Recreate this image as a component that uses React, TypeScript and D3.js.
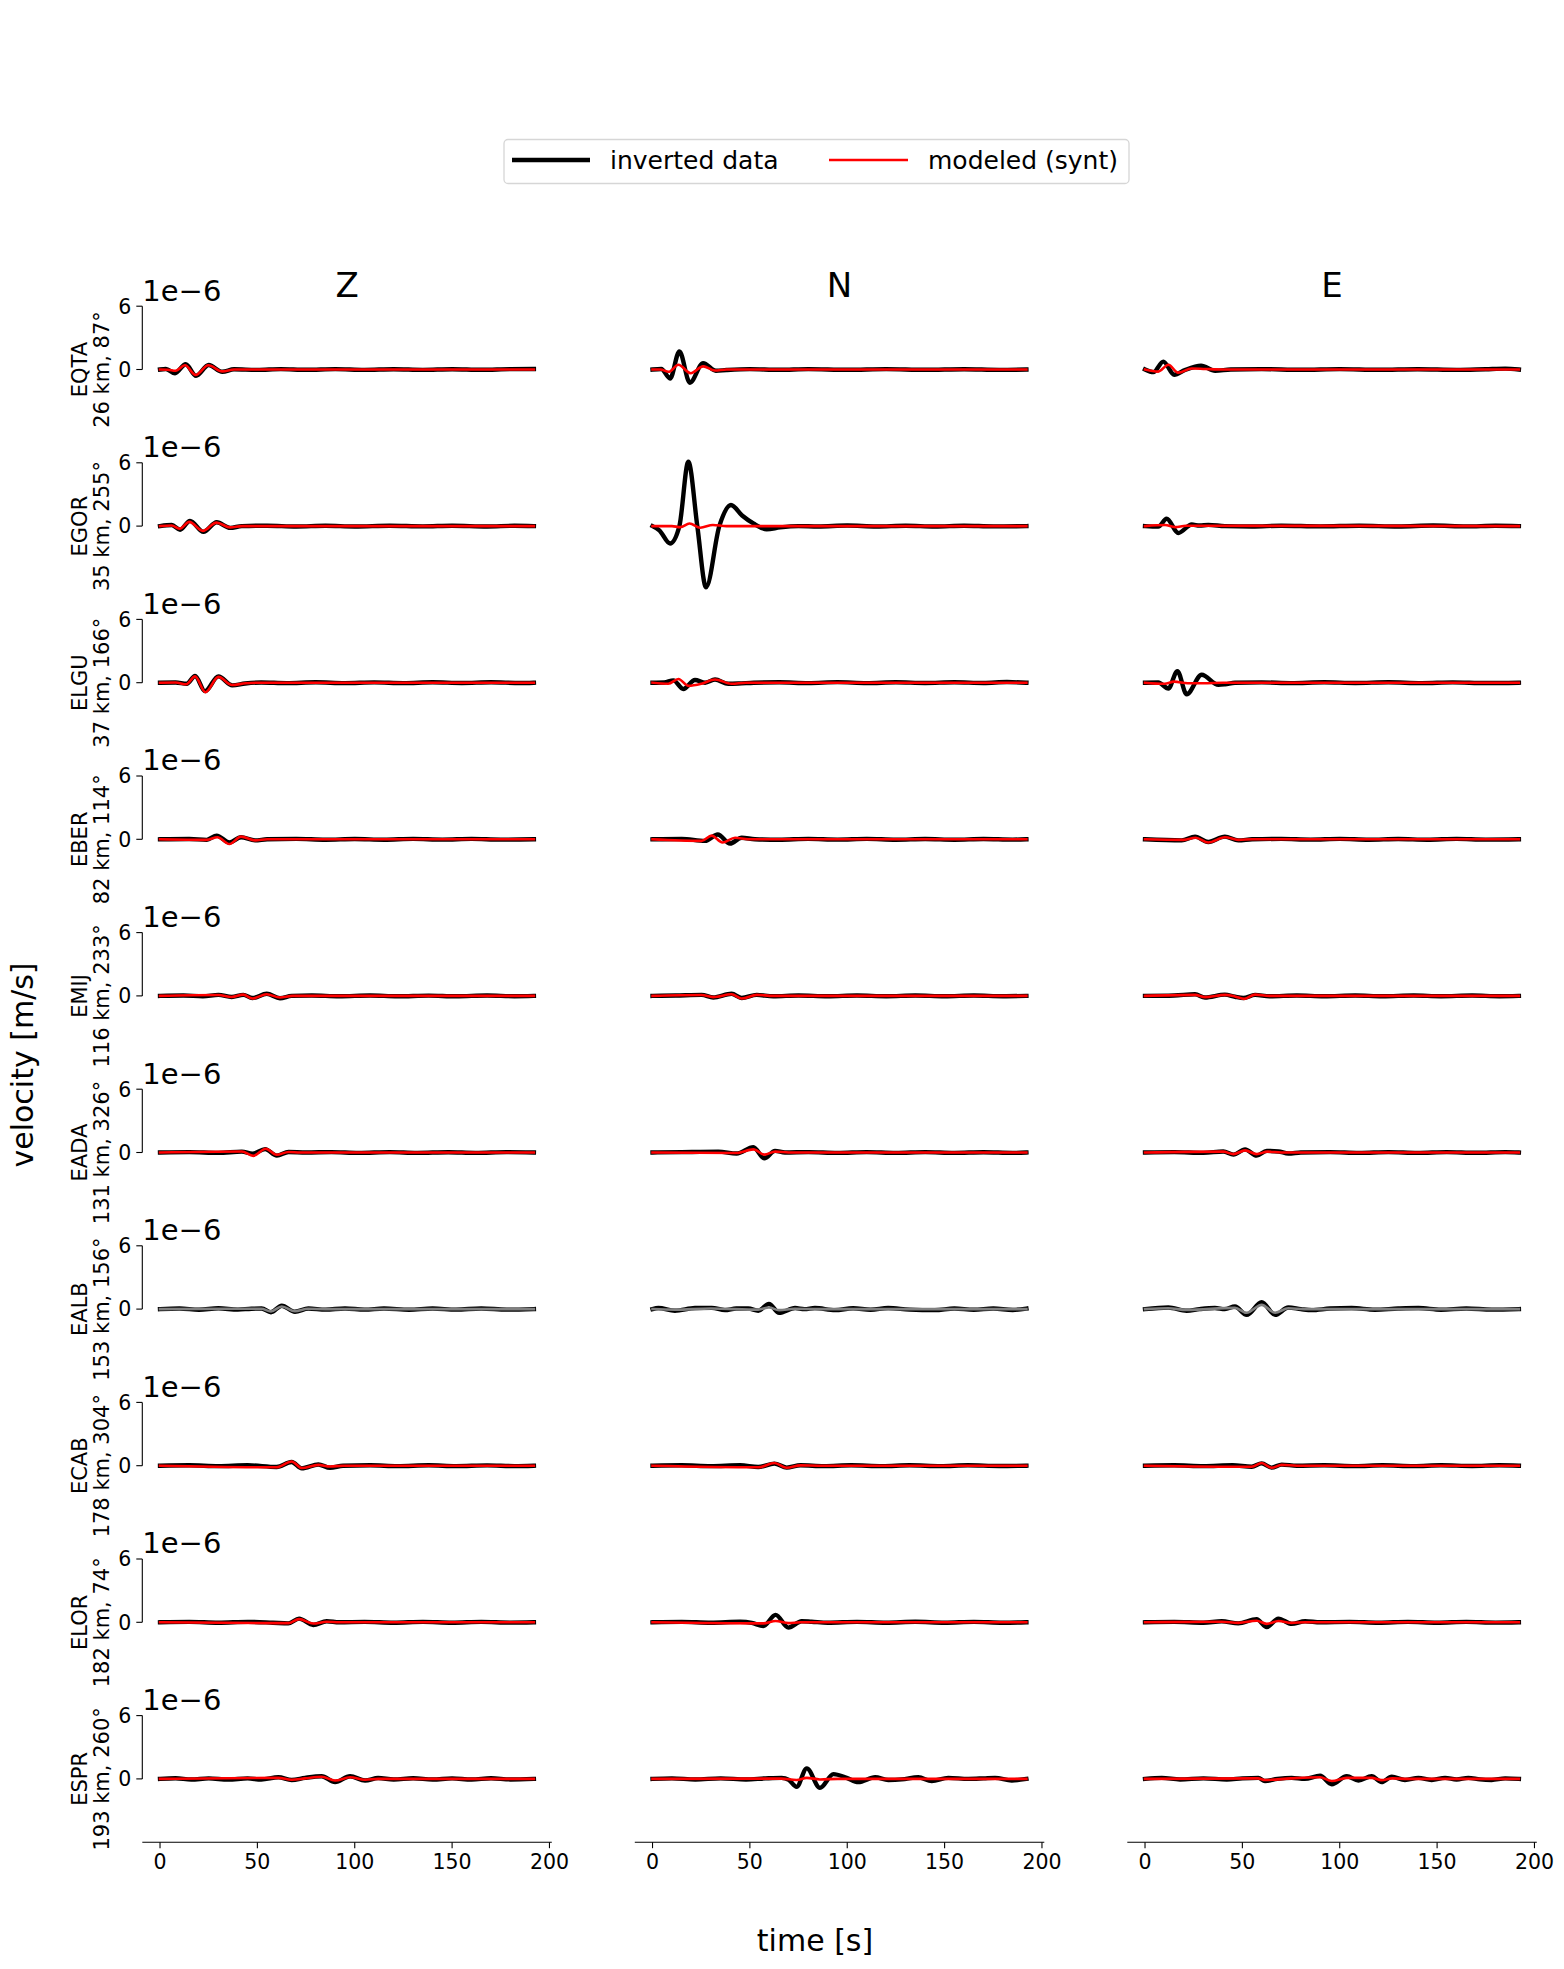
import React from 'react'
import * as d3 from 'd3'

type Pt = [number, number]

const stations = ['EQTA', 'EGOR', 'ELGU', 'EBER', 'EMIJ', 'EADA', 'EALB', 'ECAB', 'ELOR', 'ESPR']
const stationInfo = [
  '26 km, 87°', '35 km, 255°', '37 km, 166°', '82 km, 114°', '116 km, 233°',
  '131 km, 326°', '153 km, 156°', '178 km, 304°', '182 km, 74°', '193 km, 260°',
]
const components = ['Z', 'N', 'E']
const xTicks = [0, 50, 100, 150, 200]
const yTicks = [0, 6]
// stations not used in the inversion get a grey synthetic
const modeledColors = ['red', 'red', 'red', 'red', 'red', 'red', 'gray', 'red', 'red', 'red']

// velocities in 1e-6 m/s, [time s, value]
const eqtaZObs: Pt[] = [[0,0],[3,0.05],[7.7,-0.35],[13.2,0.5],[18.5,-0.6],[25,0.42],[32,-0.22],[38,0.02],[50,-0.04],[62,0.04],[75,-0.03],[90,0.04],[105,-0.04],[120,0.03],[135,-0.04],[150,0.03],[165,-0.03],[180,0.04],[192,0.05]]
const eqtaZSyn: Pt[] = [[0,0],[4,-0.02],[8,-0.12],[12.8,0.4],[18.3,-0.52],[24.8,0.4],[32,-0.18],[38,0],[192,0]]
const eqtaNObs: Pt[] = [[0,0],[4.5,0.05],[9,-0.85],[13.8,1.7],[19.2,-1.25],[26,0.6],[32.5,-0.12],[38,-0.05],[50,0.04],[65,-0.03],[80,0.04],[100,-0.03],[120,0.04],[140,-0.03],[160,0.03],[178,-0.04],[192,0]]
const eqtaNSyn: Pt[] = [[0,0],[4,0],[8.3,-0.22],[13.3,0.45],[19.6,-0.35],[26,0.3],[32,-0.1],[38,0],[192,0]]
const eqtaEObs: Pt[] = [[0,0],[4.3,-0.25],[9.4,0.75],[15,-0.5],[20.5,-0.05],[28.8,0.35],[36,-0.12],[44,0],[60,0.04],[80,-0.03],[100,0.04],[120,-0.03],[140,0.03],[160,-0.04],[175,0.03],[185,0.08],[192,0]]
const eqtaESyn: Pt[] = [[0,0],[6.8,-0.2],[12,0.45],[17,-0.3],[24,0.1],[31,0.05],[40,0],[192,0]]

const egorZObs: Pt[] = [[0,0],[6,0.1],[10.3,-0.34],[15.4,0.5],[22.3,-0.55],[29.1,0.36],[36,-0.17],[42,0],[55,0.04],[70,-0.04],[85,0.03],[100,-0.04],[118,0.04],[135,-0.03],[150,0.04],[168,-0.04],[182,0.03],[192,0]]
const egorZSyn: Pt[] = [[0,0],[6,0.05],[10,-0.25],[15,0.4],[22,-0.45],[29,0.33],[36,-0.12],[42,0],[192,0]]
const egorNObs: Pt[] = [[0,0],[3.5,-0.4],[9,-1.65],[13.8,0],[18.4,6.1],[23,0],[27.5,-5.8],[34.3,0],[40.3,2.0],[46,1.0],[51.8,0.25],[58.6,-0.3],[65.5,-0.12],[75,0],[85,-0.04],[100,0.05],[115,-0.04],[130,0.04],[145,-0.04],[160,0.04],[175,-0.03],[192,0]]
const egorNSyn: Pt[] = [[0,0],[10,0],[14.3,-0.1],[19,0.25],[24.5,-0.15],[31,0.1],[38,0],[192,0]]
const egorEObs: Pt[] = [[0,0],[6.8,-0.05],[11.1,0.7],[17.1,-0.65],[24,0.15],[28,0.05],[32.5,0.12],[41,0],[55,-0.04],[70,0.04],[90,-0.03],[110,0.04],[130,-0.04],[148,0.05],[165,-0.03],[180,0.03],[192,0]]
const egorESyn: Pt[] = [[0,0],[10.3,0.1],[15.4,-0.1],[21,0.03],[192,0]]

const elguZObs: Pt[] = [[0,0],[8,0.02],[13.7,-0.1],[18,0.64],[23.1,-0.8],[30,0.6],[37.1,-0.25],[43.7,-0.08],[52,0.02],[65,-0.04],[80,0.04],[95,-0.04],[110,0.03],[125,-0.04],[140,0.04],[155,-0.03],[170,0.04],[185,-0.03],[192,0]]
const elguZSyn: Pt[] = [[0,0],[8,0.02],[13.5,-0.15],[18,0.6],[23.3,-0.9],[30,0.55],[37,-0.22],[44,-0.05],[52,0],[192,0]]
const elguNObs: Pt[] = [[0,0],[6,0.02],[10.7,0.22],[15.8,-0.6],[21.8,0.25],[27,0],[32.1,0.3],[38.9,-0.1],[44,-0.08],[52,0],[65,0.04],[80,-0.04],[95,0.05],[110,-0.04],[125,0.04],[140,-0.03],[155,0.04],[170,-0.03],[182,0.06],[192,0]]
const elguNSyn: Pt[] = [[0,0],[8.1,-0.1],[13.3,0.35],[18.4,-0.3],[25.2,-0.1],[32.1,0.3],[40.6,-0.1],[48,0],[192,0]]
const elguEObs: Pt[] = [[0,0],[6.8,0.02],[12,-0.55],[16.6,1.1],[21.4,-1.1],[29.1,0.75],[37.7,-0.2],[41.1,-0.15],[46.2,0],[60,0.03],[75,-0.04],[92,0.04],[108,-0.03],[125,0.04],[142,-0.04],[158,0.03],[175,-0.03],[192,0]]
const elguESyn: Pt[] = [[0,0],[10,-0.1],[15,0.1],[22,-0.05],[30,-0.05],[40,0],[192,0]]

const eberZObs: Pt[] = [[0,0],[15,0.03],[24,-0.05],[29.1,0.35],[35.6,-0.3],[41.6,0.2],[48.8,-0.1],[55,0],[70,0.04],[85,-0.04],[100,0.03],[115,-0.04],[130,0.04],[145,-0.03],[160,0.04],[175,-0.03],[192,0]]
const eberZSyn: Pt[] = [[0,0],[24,-0.05],[29.5,0.2],[35.6,-0.45],[41.6,0.25],[48.8,-0.1],[55,0],[192,0]]
const eberNObs: Pt[] = [[0,0],[15,0.03],[27,-0.15],[33.5,0.45],[39.8,-0.4],[45.8,0.15],[52.6,0],[65,-0.04],[80,0.04],[95,-0.03],[110,0.04],[125,-0.04],[140,0.03],[155,-0.04],[170,0.03],[185,-0.03],[192,0]]
const eberNSyn: Pt[] = [[0,0],[25.2,-0.15],[30.4,0.35],[35.9,-0.3],[42.4,0.15],[49.2,0],[192,0]]
const eberEObs: Pt[] = [[0,0],[18.8,-0.1],[25.7,0.25],[32.5,-0.25],[41,0.25],[47.9,-0.1],[55,0],[70,0.04],[85,-0.03],[100,0.04],[115,-0.04],[130,0.03],[145,-0.04],[160,0.04],[175,-0.03],[192,0]]
const eberESyn: Pt[] = [[0,0],[20,-0.05],[26,0.15],[32.5,-0.3],[41,0.2],[48,-0.05],[55,0],[192,0]]

const emijZObs: Pt[] = [[0,0],[12,0.04],[22,-0.04],[30,0.1],[36.8,-0.1],[42.8,0.1],[47.4,-0.2],[54.8,0.2],[61.6,-0.22],[67.6,0],[78,0.04],[92,-0.04],[108,0.04],[122,-0.04],[138,0.03],[152,-0.04],[168,0.04],[182,-0.03],[192,0]]
const emijZSyn: Pt[] = [[0,0],[30,0.08],[36.8,-0.1],[42.8,0.12],[47.4,-0.25],[54.8,0.15],[61.6,-0.15],[68,0],[192,0]]
const emijNObs: Pt[] = [[0,0],[12,0.04],[25.2,0.1],[31.2,-0.15],[40.6,0.2],[45.8,-0.2],[53.5,0.1],[62,-0.04],[75,0.04],[90,-0.04],[105,0.04],[120,-0.03],[135,0.04],[150,-0.04],[165,0.04],[180,-0.03],[192,0]]
const emijNSyn: Pt[] = [[0,0],[25.2,0.08],[31.2,-0.12],[40.6,0.15],[45.8,-0.25],[53.5,0.1],[62,0],[192,0]]
const emijEObs: Pt[] = [[0,0],[15,0.04],[25.7,0.15],[30.8,-0.15],[41,0.12],[46.2,-0.08],[50.5,-0.2],[56.5,0.1],[64,-0.04],[78,0.04],[92,-0.04],[108,0.04],[122,-0.04],[138,0.04],[152,-0.03],[168,0.04],[182,-0.03],[192,0]]
const emijESyn: Pt[] = [[0,0],[25.7,0.1],[30.8,-0.12],[41,0.1],[46.2,-0.05],[51,-0.28],[56.5,0.12],[64,0],[192,0]]

const eadaZObs: Pt[] = [[0,0],[15,0.04],[30,-0.04],[42,0.08],[47.5,-0.12],[54,0.32],[60,-0.3],[66,0.05],[75,0],[88,0.04],[102,-0.04],[118,0.04],[132,-0.04],[148,0.03],[162,-0.04],[178,0.04],[192,0]]
const eadaZSyn: Pt[] = [[0,0],[42,0.1],[47.9,-0.32],[54.3,0.35],[59.9,-0.22],[66,0.05],[72,0],[192,0]]
const eadaNObs: Pt[] = [[0,0],[15,0.04],[33.8,0.08],[43.2,-0.1],[51.8,0.5],[57.4,-0.55],[62.9,0.15],[68,0],[80,0.04],[95,-0.04],[110,0.04],[125,-0.04],[140,0.04],[155,-0.04],[170,0.03],[185,-0.04],[192,0]]
const eadaNSyn: Pt[] = [[0,0],[43,-0.05],[51.8,0.3],[57.4,-0.2],[63,0.08],[70,0],[192,0]]
const eadaEObs: Pt[] = [[0,0],[15,0.04],[30,-0.04],[40.2,0.1],[45.4,-0.2],[51.4,0.3],[57.3,-0.3],[62.5,0.15],[68.5,0.1],[73.6,-0.1],[80,0],[95,0.04],[110,-0.04],[125,0.04],[140,-0.04],[155,0.04],[170,-0.03],[185,0.04],[192,0]]
const eadaESyn: Pt[] = [[0,0],[40.2,0.08],[45.4,-0.15],[51.4,0.2],[57.3,-0.15],[63,0.08],[70,0],[192,0]]

const ealbZObs: Pt[] = [[0,0],[10,0.06],[20,-0.06],[30,0.08],[40,-0.05],[47,0.04],[52.2,0.05],[57,-0.3],[62.5,0.32],[69.3,-0.25],[76.2,0.05],[85,-0.05],[95,0.06],[105,-0.05],[115,0.05],[128,-0.06],[140,0.05],[152,-0.05],[165,0.06],[178,-0.05],[192,0]]
const ealbZSyn: Pt[] = [[0,0],[52,0.03],[57,-0.22],[62.5,0.25],[69.3,-0.2],[76,0.03],[85,0],[192,0]]
const ealbNObs: Pt[] = [[0,0],[3,0.1],[11.5,-0.15],[21.8,0.1],[30.4,0.12],[37.2,-0.1],[43,0.05],[49.2,0.05],[54.3,-0.15],[59.8,0.5],[65,-0.35],[73.2,0.1],[78,0],[83.4,0.1],[93.7,-0.1],[103,0.08],[112,-0.06],[121,0.1],[132,-0.05],[145,-0.1],[155,0.06],[165,-0.06],[175,0.05],[185,-0.08],[192,0.05]]
const ealbNSyn: Pt[] = [[0,0],[11.5,-0.05],[30,0.05],[54.3,-0.05],[59.8,0.15],[65,-0.1],[73,0.03],[85,0],[192,0]]
const ealbEObs: Pt[] = [[0,0],[12,0.15],[21.4,-0.15],[28,0],[35.9,0.1],[41,0],[46.2,0.25],[52.2,-0.55],[59.9,0.65],[66.8,-0.55],[73.6,0.15],[80,0],[85.6,-0.1],[95,0.05],[106.1,0.1],[118,-0.06],[130,0.05],[140.4,0.1],[152,-0.06],[165,0.06],[178,-0.05],[192,0]]
const ealbESyn: Pt[] = [[0,0],[12,0.08],[21.4,-0.08],[46.2,0.12],[52.2,-0.35],[59.9,0.4],[66.8,-0.35],[73.6,0.08],[82,0],[192,0]]

const ecabZObs: Pt[] = [[0,0],[15,0.04],[30,-0.04],[45,0.04],[59.9,-0.12],[67.6,0.35],[72.8,-0.25],[81.3,0.12],[87.3,-0.2],[94,0],[108,0.04],[122,-0.04],[138,0.04],[152,-0.04],[168,0.03],[182,-0.04],[192,0]]
const ecabZSyn: Pt[] = [[0,0],[59.9,-0.15],[67.6,0.4],[72.8,-0.22],[81.3,0.08],[87.3,-0.08],[94,0],[192,0]]
const ecabNObs: Pt[] = [[0,0],[15,0.04],[30,-0.04],[45,0.04],[54.3,-0.12],[62.6,0.2],[68.9,-0.18],[76,0.04],[88,-0.04],[102,0.04],[118,-0.04],[132,0.04],[148,-0.04],[162,0.04],[178,-0.03],[192,0]]
const ecabNSyn: Pt[] = [[0,0],[54.3,-0.15],[62.6,0.25],[68.9,-0.2],[76,0.03],[85,0],[192,0]]
const ecabEObs: Pt[] = [[0,0],[15,0.04],[30,-0.04],[45,0.04],[54.8,-0.1],[59.9,0.22],[65,-0.18],[70.2,0.1],[78,0],[92,0.04],[108,-0.04],[122,0.04],[138,-0.04],[152,0.04],[168,-0.03],[182,0.04],[192,0]]
const ecabESyn: Pt[] = [[0,0],[54.8,-0.1],[59.9,0.25],[65,-0.2],[70.2,0.08],[78,0],[192,0]]

const elorZObs: Pt[] = [[0,0],[15,0.04],[30,-0.04],[45,0.04],[58,-0.04],[65.9,-0.1],[71.4,0.35],[78.7,-0.25],[85.6,0.1],[92,0],[105,0.04],[120,-0.04],[135,0.04],[150,-0.04],[165,0.04],[180,-0.03],[192,0]]
const elorZSyn: Pt[] = [[0,0],[65.9,-0.08],[71.4,0.3],[78.7,-0.12],[85.6,0.05],[92,0],[192,0]]
const elorNObs: Pt[] = [[0,0],[15,0.04],[30,-0.04],[45,0.05],[51,-0.05],[56.9,-0.35],[63.2,0.7],[69.8,-0.5],[76.6,0.1],[81.7,0.05],[90,-0.04],[105,0.04],[120,-0.04],[135,0.05],[150,-0.04],[165,0.04],[180,-0.04],[192,0]]
const elorNSyn: Pt[] = [[0,0],[56.9,-0.1],[63.2,0.12],[69.8,-0.08],[76,0],[192,0]]
const elorEObs: Pt[] = [[0,0],[15,0.04],[30,-0.04],[39.4,0.1],[47.9,-0.1],[57.3,0.3],[62.5,-0.45],[68.5,0.35],[75.3,-0.15],[82.2,0.1],[90,0],[105,0.04],[120,-0.04],[135,0.04],[150,-0.04],[165,0.04],[180,-0.03],[192,0]]
const elorESyn: Pt[] = [[0,0],[39.4,0.05],[47.9,-0.05],[57.3,0.15],[62.5,-0.15],[68.5,0.12],[75.3,-0.05],[82,0],[192,0]]

const esprZObs: Pt[] = [[0,0],[8,0.06],[16,-0.06],[25,0.05],[35,-0.06],[45,0.05],[52,-0.06],[60.8,0.15],[67.6,-0.1],[74.5,0.1],[83,0.25],[89.9,-0.3],[97.6,0.25],[105.3,-0.15],[112,0.08],[120,-0.06],[130,0.06],[140,-0.06],[150,0.05],[160,-0.06],[170,0.06],[180,-0.05],[192,0]]
const esprZSyn: Pt[] = [[0,0],[60.8,0.1],[67.6,-0.08],[74.5,0.05],[83,0.2],[89.9,-0.15],[97.6,0.15],[105.3,-0.08],[112,0],[192,0]]
const esprNObs: Pt[] = [[0,0],[10,0.05],[22,-0.05],[35,0.05],[48,-0.05],[58,0.05],[66.3,0.1],[70,-0.1],[74,-0.75],[79.2,1.0],[86,-0.85],[92.9,0.45],[99.7,0.1],[105.7,-0.3],[114.3,0.15],[121.1,-0.1],[128,-0.05],[136.5,0.15],[143.4,-0.2],[151.9,0.1],[162.2,0],[170,0.05],[175.9,0.1],[184.5,-0.15],[192,0]]
const esprNSyn: Pt[] = [[0,0],[66,0.03],[74,-0.1],[79.2,0.1],[86,-0.05],[95,0],[192,0]]
const esprEObs: Pt[] = [[0,0],[8.6,0.1],[18,-0.05],[30,0.05],[42,-0.05],[50,0.05],[58.2,0.1],[61.6,-0.2],[68,0],[75.3,0.1],[82,0],[89.9,0.3],[95.9,-0.5],[103.6,0.25],[109.6,-0.15],[116.4,0.25],[121.5,-0.3],[126.7,0.2],[133.5,-0.1],[140.4,0.1],[147.2,-0.1],[154.1,0.1],[160,-0.05],[166,0.1],[172,-0.05],[178,-0.1],[185,0.05],[192,0]]
const esprESyn: Pt[] = [[0,0],[58,0.05],[61.6,-0.1],[75,0.05],[89.9,0.15],[95.9,-0.2],[103.6,0.1],[116.4,0.1],[121.5,-0.12],[127,0.05],[135,0],[192,0]]

const observed: Pt[][][] = [
  [eqtaZObs, eqtaNObs, eqtaEObs], [egorZObs, egorNObs, egorEObs], [elguZObs, elguNObs, elguEObs],
  [eberZObs, eberNObs, eberEObs], [emijZObs, emijNObs, emijEObs], [eadaZObs, eadaNObs, eadaEObs],
  [ealbZObs, ealbNObs, ealbEObs], [ecabZObs, ecabNObs, ecabEObs], [elorZObs, elorNObs, elorEObs],
  [esprZObs, esprNObs, esprEObs],
]
const modeled: Pt[][][] = [
  [eqtaZSyn, eqtaNSyn, eqtaESyn], [egorZSyn, egorNSyn, egorESyn], [elguZSyn, elguNSyn, elguESyn],
  [eberZSyn, eberNSyn, eberESyn], [emijZSyn, emijNSyn, emijESyn], [eadaZSyn, eadaNSyn, eadaESyn],
  [ealbZSyn, ealbNSyn, ealbESyn], [ecabZSyn, ecabNSyn, ecabESyn], [elorZSyn, elorNSyn, elorESyn],
  [esprZSyn, esprNSyn, esprESyn],
]

const W = 1564
const H = 1969
const font = 'DejaVu Sans'
const colLeft = 142.3
const colStep = 492.5
const axW = 409.5
const row0 = 369.5
const rowStep = 156.6
const halfH = 64.5

export default function App() {
  const nRows = stations.length
  const bottomY = row0 + (nRows - 1) * rowStep + halfH - 1.2

  return (
    <svg width={W} height={H} style={{ position: 'absolute', left: 0, top: 0, background: '#fff' }}
      fontFamily={font}>
      {/* legend */}
      <rect x={504} y={139.5} width={625} height={44} rx={4} fill="#fff" stroke="#d6d6d6" strokeWidth={1.3} />
      <line x1={512} x2={590} y1={160} y2={160} stroke="black" strokeWidth={4.6} />
      <text x={610} y={169} fontSize={25}>inverted data</text>
      <line x1={829} x2={908} y1={160} y2={160} stroke="red" strokeWidth={2.6} />
      <text x={928} y={169} fontSize={25}>modeled (synt)</text>

      {components.map((c, ci) => (
        <text key={c} x={colLeft + ci * colStep + axW / 2} y={297} fontSize={34} textAnchor="middle">{c}</text>
      ))}

      {stations.map((st, ri) => {
        const zero = row0 + ri * rowStep
        const y = d3.scaleLinear().domain([-halfH / 10.55, halfH / 10.55]).range([zero + halfH, zero - halfH])
        return (
          <g key={st}>
            <text transform={`translate(87,${zero}) rotate(-90)`} fontSize={21} textAnchor="middle">{st}</text>
            <text transform={`translate(108.5,${zero}) rotate(-90)`} fontSize={21} textAnchor="middle">{stationInfo[ri]}</text>
            <text x={colLeft} y={zero - 69} fontSize={29}>1e−6</text>
            <line x1={colLeft} x2={colLeft} y1={y(0)} y2={y(6)} stroke="black" strokeWidth={1.1} />
            {yTicks.map(t => (
              <g key={t}>
                <line x1={colLeft - 6} x2={colLeft} y1={y(t)} y2={y(t)} stroke="black" strokeWidth={1.1} />
                <text x={colLeft - 11} y={y(t)} dy="0.36em" fontSize={20.5} textAnchor="end">{t}</text>
              </g>
            ))}
            {components.map((c, ci) => {
              const left = colLeft + ci * colStep
              const x = d3.scaleLinear().domain([-9.1, 201.2]).range([left, left + axW])
              const line = d3.line<Pt>().x(d => x(d[0])).y(d => y(d[1])).curve(d3.curveMonotoneX)
              return (
                <g key={c}>
                  <path d={line(observed[ri][ci]) || ''} fill="none" stroke="black" strokeWidth={4.4}
                    strokeLinecap="square" strokeLinejoin="round" />
                  <path d={line(modeled[ri][ci]) || ''} fill="none" stroke={modeledColors[ri]} strokeWidth={2.6}
                    strokeLinecap="square" strokeLinejoin="round" />
                </g>
              )
            })}
          </g>
        )
      })}

      {/* bottom time axes */}
      {components.map((c, ci) => {
        const left = colLeft + ci * colStep
        const x = d3.scaleLinear().domain([-9.1, 201.2]).range([left, left + axW])
        return (
          <g key={c}>
            <line x1={left} x2={left + axW} y1={bottomY} y2={bottomY} stroke="black" strokeWidth={1.1} />
            {xTicks.map(t => (
              <g key={t}>
                <line x1={x(t)} x2={x(t)} y1={bottomY} y2={bottomY + 6} stroke="black" strokeWidth={1.1} />
                <text x={x(t)} y={bottomY + 27} fontSize={20.5} textAnchor="middle">{t}</text>
              </g>
            ))}
          </g>
        )
      })}

      <text transform="translate(33,1065) rotate(-90)" fontSize={30} textAnchor="middle">velocity [m/s]</text>
      <text x={815} y={1951} fontSize={30} textAnchor="middle">time [s]</text>
    </svg>
  )
}
